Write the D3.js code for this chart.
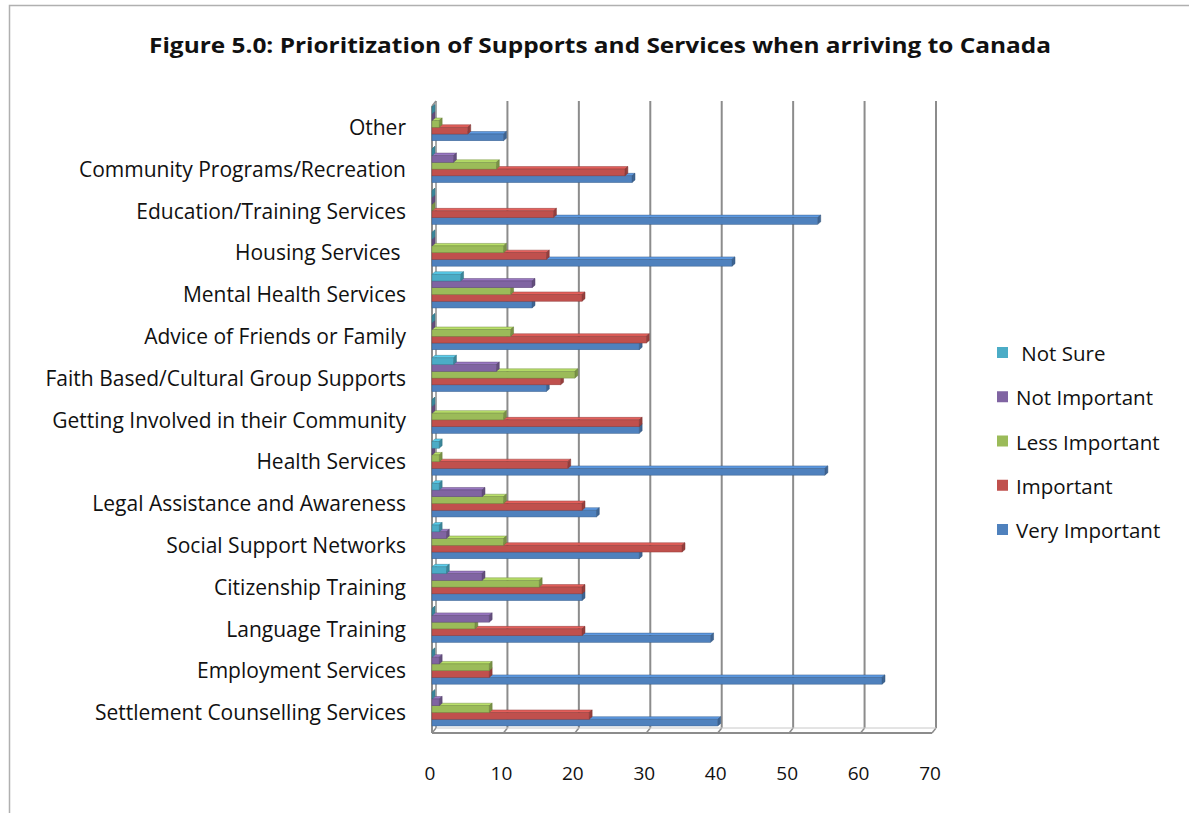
<!DOCTYPE html>
<html>
<head>
<meta charset="utf-8">
<script src="https://cdn.jsdelivr.net/npm/d3@7"></script>
<style>
  html, body { margin: 0; padding: 0; background: #fff; }
  svg { display: block; }
  text { font-family: "Open Sans", "DejaVu Sans", sans-serif; fill: #111; }
</style>
</head>
<body>
<svg id="chart" width="1189" height="813"></svg>
<script>
// Services, listed top to bottom as they appear on the chart
const categories = [
  "Other",
  "Community Programs/Recreation",
  "Education/Training Services",
  "Housing Services ",
  "Mental Health Services",
  "Advice of Friends or Family",
  "Faith Based/Cultural Group Supports",
  "Getting Involved in their Community",
  "Health Services",
  "Legal Assistance and Awareness",
  "Social Support Networks",
  "Citizenship Training",
  "Language Training",
  "Employment Services",
  "Settlement Counselling Services"
];

// Response series (legend order, top to bottom inside each group)
const seriesNames = ["Not Sure", "Not Important", "Less Important", "Important", "Very Important"];
const seriesColors = ["#4BACC6", "#8064A2", "#9BBB59", "#C0504D", "#4F81BD"];

// Counts per series, aligned with categories
const notSure       = [0, 0, 0, 0, 4, 0, 3, 0, 1, 1, 1, 2, 0, 0, 0];
const notImportant  = [0, 3, 0, 0, 14, 0, 9, 0, 0, 7, 2, 7, 8, 1, 1];
const lessImportant = [1, 9, 0, 10, 11, 11, 20, 10, 1, 10, 10, 15, 6, 8, 8];
const important     = [5, 27, 17, 16, 21, 30, 18, 29, 19, 21, 35, 21, 21, 8, 22];
const veryImportant = [10, 28, 54, 42, 14, 29, 16, 29, 55, 23, 29, 21, 39, 63, 40];

const tickValues = [0, 10, 20, 30, 40, 50, 60, 70];
const titleText = "Figure 5.0: Prioritization of Supports and Services when arriving to Canada";

const seriesValues = [notSure, notImportant, lessImportant, important, veryImportant];

const svg = d3.select("#chart");

// outer frame
svg.append("path")
  .attr("d", "M9.5,813 L9.5,5.5 L1189,5.5")
  .attr("fill", "none").attr("stroke", "#b0b0b0").attr("stroke-width", 1.5);

// title
svg.append("text")
  .attr("x", 600).attr("y", 53)
  .attr("text-anchor", "middle")
  .attr("font-size", 22).attr("font-weight", 700)
  .attr("textLength", 902).attr("lengthAdjust", "spacingAndGlyphs")
  .text(titleText);

// scales
const x = d3.scaleLinear().domain([0, 70]).range([436, 936]);
const y0 = d3.scaleBand().domain(categories).range([103, 730]).paddingInner(0).paddingOuter(0);
const y1 = d3.scaleBand().domain(seriesNames).range([0, y0.bandwidth()]).paddingInner(0).paddingOuter(0.6);

// 3D offsets: floor/wall depth and bar depth
const fdx = 4, fdy = 5;
const bdx = 3, bdy = 2.5;
const wallTop = 101, floorBack = 728, floorFront = floorBack + fdy;

const grid = svg.append("g");
// back-wall gridlines and slanted floor ticks
tickValues.forEach(v => {
  const gx = x(v);
  if (v > 0) {
    grid.append("line")
      .attr("x1", gx).attr("x2", gx).attr("y1", wallTop).attr("y2", floorBack)
      .attr("stroke", "#8c8c8c").attr("stroke-width", 2);
  }
  grid.append("line")
    .attr("x1", gx).attr("y1", floorBack).attr("x2", gx - fdx).attr("y2", floorFront)
    .attr("stroke", "#8c8c8c").attr("stroke-width", 1.5);
});
// floor edges
grid.append("line")
  .attr("x1", x(0) - fdx).attr("x2", x(70) - fdx).attr("y1", floorFront).attr("y2", floorFront)
  .attr("stroke", "#8c8c8c").attr("stroke-width", 2);
grid.append("line")
  .attr("x1", x(0)).attr("x2", x(70)).attr("y1", floorBack).attr("y2", floorBack)
  .attr("stroke", "#c8c8c8").attr("stroke-width", 1);
// left wall (two edges)
grid.append("line")
  .attr("x1", x(0)).attr("x2", x(0)).attr("y1", wallTop).attr("y2", floorBack)
  .attr("stroke", "#8c8c8c").attr("stroke-width", 1.5);
grid.append("line")
  .attr("x1", x(0) - fdx).attr("x2", x(0) - fdx).attr("y1", wallTop + fdy).attr("y2", floorFront)
  .attr("stroke", "#8c8c8c").attr("stroke-width", 2);
grid.append("line")
  .attr("x1", x(0) - fdx).attr("y1", wallTop + fdy).attr("x2", x(0)).attr("y2", wallTop)
  .attr("stroke", "#8c8c8c").attr("stroke-width", 1.5);

// bars: each series drawn from the bottom of a group upward so upper bars sit in front
const bars = svg.append("g");
categories.forEach((cat, ci) => {
  for (let si = seriesNames.length - 1; si >= 0; si--) {
    const v = seriesValues[si][ci];
    const col = d3.color(seriesColors[si]);
    const yTop = y0(cat) + y1(seriesNames[si]);
    const h = y1.bandwidth();
    const xl = x(0) - fdx;
    const xr = x(v) - fdx;
    const g = bars.append("g");
    // top face
    g.append("path")
      .attr("d", `M${xl},${yTop} L${xr},${yTop} L${xr + bdx},${yTop - bdy} L${xl + bdx},${yTop - bdy} Z`)
      .attr("fill", col.brighter(0.5)).attr("stroke", col.darker(0.8)).attr("stroke-width", 0.5);
    // end face
    g.append("path")
      .attr("d", `M${xr},${yTop} L${xr + bdx},${yTop - bdy} L${xr + bdx},${yTop + h - bdy} L${xr},${yTop + h} Z`)
      .attr("fill", col.darker(0.7)).attr("stroke", col.darker(1.2)).attr("stroke-width", 0.5);
    // front face
    g.append("rect")
      .attr("x", xl).attr("y", yTop)
      .attr("width", Math.max(0, xr - xl)).attr("height", h)
      .attr("fill", col).attr("stroke", col.darker(0.8)).attr("stroke-width", 0.5);
  }
});

// category labels
svg.append("g").selectAll("text")
  .data(categories).join("text")
  .attr("x", 406)
  .attr("y", d => y0(d) + y1("Less Important") + y1.bandwidth() / 2 + 3)
  .attr("text-anchor", "end")
  .attr("dominant-baseline", "central")
  .attr("font-size", 21)
  .style("white-space", "pre")
  .text(d => d);

// value axis labels
svg.append("g").selectAll("text")
  .data(tickValues).join("text")
  .attr("x", d => x(d) - 6)
  .attr("y", 773)
  .attr("text-anchor", "middle")
  .attr("dominant-baseline", "central")
  .attr("font-size", 19)
  .text(d => d);

// legend
const legendY = d3.scalePoint().domain(seriesNames).range([353, 530]);
const legend = svg.append("g");
seriesNames.forEach((name, i) => {
  const ly = legendY(name);
  legend.append("rect")
    .attr("x", 997).attr("y", ly - 6).attr("width", 11).attr("height", 11)
    .attr("fill", seriesColors[i]);
  legend.append("text")
    .attr("x", 1016).attr("y", ly)
    .attr("dominant-baseline", "central")
    .attr("font-size", 20.5)
    .style("white-space", "pre")
    .text(i === 0 ? " " + name : name);
});
</script>
</body>
</html>
